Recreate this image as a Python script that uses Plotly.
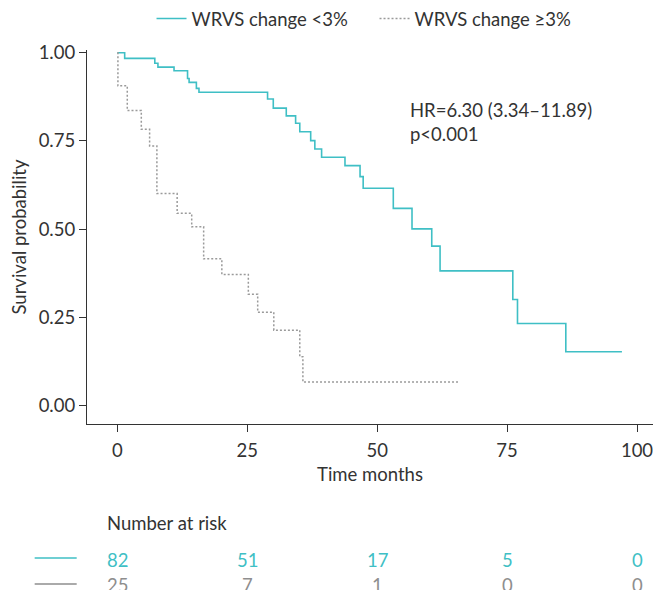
import plotly.graph_objects as go

# ---- data ----
teal_name = "WRVS change <3%"
gray_name = "WRVS change ≥3%"

teal_t = [0, 1.4, 7.2, 7.8, 10.9, 13.5, 13.8, 15.2, 15.7, 28.9, 30.0, 32.5, 34.3, 35.1,
          37.2, 38.0, 39.3, 43.8, 46.7, 47.3, 53.1, 56.7, 60.5, 62.1, 76.1, 77.0, 86.3, 97.1]
teal_s = [1.0, 0.984, 0.970, 0.959, 0.949, 0.927, 0.916, 0.899, 0.888, 0.869, 0.843, 0.821,
          0.800, 0.776, 0.751, 0.727, 0.704, 0.680, 0.649, 0.616, 0.559, 0.501, 0.452, 0.382,
          0.301, 0.233, 0.153, 0.153]

gray_t = [0, 0.1, 1.9, 4.6, 6.2, 7.6, 11.5, 14.3, 16.6, 20.1, 25.2, 27.0, 30.1, 35.1, 35.7, 65.9]
gray_s = [1.0, 0.906, 0.836, 0.783, 0.736, 0.601, 0.545, 0.507, 0.416, 0.372, 0.316, 0.265,
          0.214, 0.139, 0.067, 0.067]

risk_times = [0, 25, 50, 75, 100]
risk_teal = [82, 51, 17, 5, 0]
risk_gray = [25, 7, 1, 0, 0]

x_ticks = [0, 25, 50, 75, 100]
y_ticks = [0, 0.25, 0.5, 0.75, 1.0]
y_tick_text = ["0.00", "0.25", "0.50", "0.75", "1.00"]

hr_text = "HR=6.30 (3.34–11.89)"
p_text = "p<0.001"

# ---- style ----
TEAL = "#3FBFC5"
GRAY = "#9A9A9A"
GRAY_TXT = "#8E8E8E"
TXT = "#333333"
FONT = "Lato"
FS = 18.5

# plot area in page pixels: x 87.3..653, y 50..424
def px_x(p):
    return (p - 87.3) / 565.7

def px_y(p):
    return (424 - p) / 374

fig = go.Figure()
fig.add_trace(go.Scatter(x=teal_t, y=teal_s, mode="lines", line_shape="hv",
                         line=dict(color=TEAL, width=1.6), name=teal_name))
fig.add_trace(go.Scatter(x=gray_t, y=gray_s, mode="lines", line_shape="hv",
                         line=dict(color=GRAY, width=1.5, dash="2px,2px"), name=gray_name))

annotations = [
    dict(text=hr_text, xref="paper", yref="paper", x=px_x(408), y=px_y(110), xanchor="left",
         yanchor="middle", showarrow=False, font=dict(size=FS, color=TXT, family=FONT)),
    dict(text=p_text, xref="paper", yref="paper", x=px_x(408), y=px_y(134), xanchor="left",
         yanchor="middle", showarrow=False, font=dict(size=FS, color=TXT, family=FONT)),
    dict(text="Number at risk", xref="paper", yref="paper", x=px_x(105),
         y=px_y(523), xanchor="left", yanchor="middle", showarrow=False,
         font=dict(size=FS, color=TXT, family=FONT)),
]
for t, a, b in zip(risk_times, risk_teal, risk_gray):
    annotations.append(dict(text=str(a), xref="x", yref="paper", x=t, y=px_y(560),
                            xanchor="center", yanchor="middle", showarrow=False,
                            font=dict(size=FS, color=TEAL, family=FONT)))
    annotations.append(dict(text=str(b), xref="x", yref="paper", x=t, y=px_y(585),
                            xanchor="center", yanchor="middle", showarrow=False,
                            font=dict(size=FS, color=GRAY_TXT, family=FONT)))

shapes = [
    dict(type="line", xref="paper", yref="paper", x0=px_x(35), x1=px_x(77),
         y0=px_y(558), y1=px_y(558), line=dict(color=TEAL, width=1.5)),
    dict(type="line", xref="paper", yref="paper", x0=px_x(35), x1=px_x(77),
         y0=px_y(584), y1=px_y(584), line=dict(color="#8E8E8E", width=1.5)),
]

fig.update_layout(
    width=653, height=590,
    margin=dict(l=87, r=0, t=50, b=166),
    paper_bgcolor="white", plot_bgcolor="white",
    font=dict(family=FONT, size=FS, color=TXT),
    showlegend=True,
    legend=dict(orientation="h", x=0.114, y=1.083, xanchor="left", yanchor="middle",
                font=dict(size=FS, color=TXT, family=FONT), entrywidth=178,
                entrywidthmode="pixels", bgcolor="rgba(0,0,0,0)"),
    annotations=annotations,
    shapes=shapes,
    xaxis=dict(range=[-5.85, 103.08], tickvals=x_ticks, ticks="outside", ticklen=7,
               tickcolor="#333", showline=True, linecolor="#333", linewidth=1.2,
               showgrid=False, zeroline=False, tickfont=dict(size=FS, color=TXT),
               ticklabeloverflow="allow", ticklabelstandoff=3,
               title=dict(text="Time months", font=dict(size=FS, color=TXT), standoff=7)),
    yaxis=dict(range=[-0.0518, 1.0076], tickvals=y_ticks, ticktext=y_tick_text,
               ticks="outside", ticklen=7, tickcolor="#333", showline=True, linecolor="#333",
               linewidth=1.2, showgrid=False, zeroline=False, tickfont=dict(size=FS, color=TXT),
               title=dict(text="Survival probability", font=dict(size=FS, color=TXT), standoff=7)),
)

fig.write_html(
    "out.html",
    config={"displayModeBar": False},
    post_script="document.body.style.margin='0';document.body.style.overflow='hidden';",
)
